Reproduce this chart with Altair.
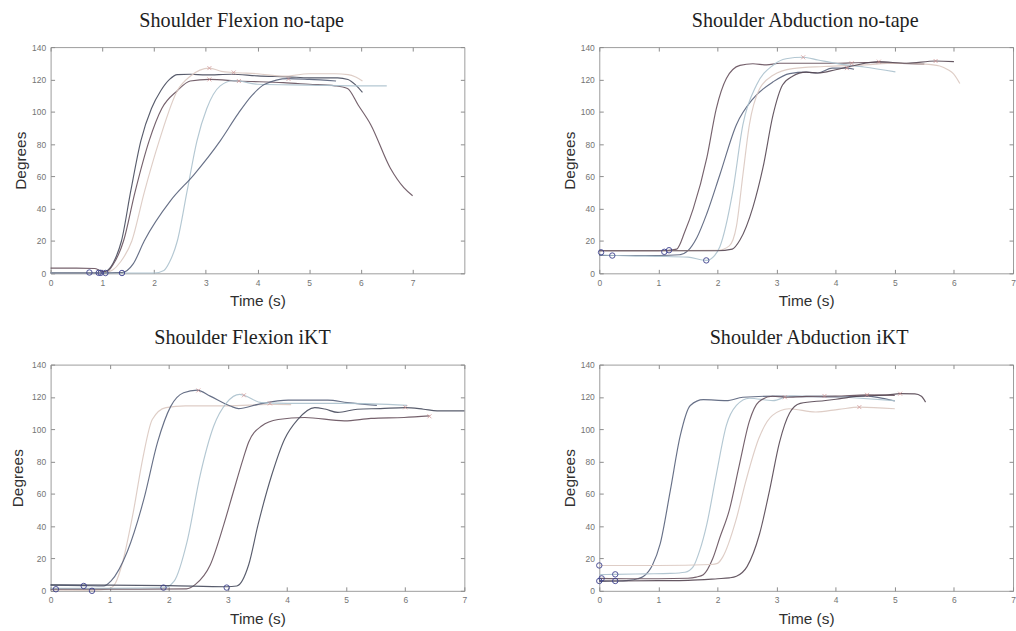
import altair as alt
import pandas as pd

# ---------------- data (time s, degrees) ----------------
# Panel 1: Shoulder Flexion no-tape
P1_C1 = [(0, 0.5), (0.5, 0.5), (0.9, 0.5), (1.0, 0.8), (1.1, 1.8), (1.25, 9), (1.37, 20), (1.55, 51), (1.745, 82),
         (1.95, 102), (2.13, 113), (2.3, 120), (2.45, 123), (2.7, 123.2), (3.0, 122.8), (3.5, 123.2), (4.0, 122.2),
         (4.6, 121.6), (5.0, 121), (5.55, 121), (5.75, 120), (5.9, 116.5), (6.03, 112)]
P1_C2 = [(0, 3.2), (0.5, 3.2), (0.85, 3.0), (0.97, 1.5), (1.08, 0.8), (1.2, 5), (1.41, 20), (1.63, 50), (1.905, 82),
         (2.15, 102), (2.45, 113), (2.7, 119), (3.07, 120), (3.64, 119), (4.5, 118), (5.0, 117), (5.5, 116),
         (5.74, 114.4), (5.95, 104), (6.19, 92), (6.57, 65), (6.83, 53), (7.0, 48)]
P1_C3 = [(0, 0.3), (0.9, 0.3), (1.06, 0.5), (1.2, 2), (1.35, 7), (1.57, 20), (1.81, 50), (2.1, 82), (2.45, 113),
         (2.7, 122), (3.07, 127), (3.3, 125), (3.54, 124.3), (4.0, 123.5), (4.5, 122), (5.0, 123.5), (5.5, 123.5),
         (5.75, 123), (5.9, 121.5), (6.03, 119)]
P1_C4 = [(0, 0.3), (1.0, 0.2), (2.0, 0.2), (2.19, 1.8), (2.3, 7), (2.45, 20), (2.64, 51), (2.83, 82), (3.02, 102),
         (3.28, 116), (3.53, 119.2), (3.64, 119), (4.0, 117), (5.0, 116.5), (6.0, 116), (6.5, 116)]
P1_C5 = [(0, 0.2), (1.0, 0.2), (1.38, 0.5), (1.6, 6), (1.81, 20), (2.32, 45), (2.77, 61), (3.28, 82), (3.63, 99),
         (3.89, 110), (4.14, 117), (4.59, 120.5), (5.0, 120), (5.52, 119)]
P1_CIRCLES = [(0.75, 0.5), (0.93, 0.3), (0.97, 0.3), (1.06, 0.2), (1.38, 0.2)]
P1_CROSSES = [(3.07, 127), (3.54, 124.3), (3.07, 120), (3.64, 119), (4.6, 120.3)]

# Panel 2: Shoulder Abduction no-tape
P2_C1 = [(0, 14), (1.0, 14), (1.18, 14.3), (1.31, 15), (1.45, 26), (1.59, 40), (1.82, 71.6), (1.98, 102),
         (2.15, 120.6), (2.38, 128.7), (2.6, 129.7), (2.83, 129), (3.05, 130), (3.5, 130), (4.0, 130),
         (4.5, 130.5), (5.0, 130), (5.5, 129.5)]
P2_C2 = [(0, 11), (0.22, 11), (1.0, 11), (1.36, 11.5), (1.5, 14), (1.65, 22), (1.82, 37), (2.04, 61), (2.32, 92),
         (2.6, 108), (2.94, 118.5), (3.22, 123.6), (3.5, 124.5), (3.7, 124), (3.94, 127), (4.19, 127), (4.31, 126.3)]
P2_C3 = [(0, 14), (1.0, 14), (2.0, 14.2), (2.2, 17), (2.32, 29), (2.43, 61), (2.54, 92), (2.71, 114), (2.94, 122.6),
         (3.27, 126.7), (3.8, 128), (4.5, 129), (5.0, 130), (5.5, 129.5), (5.76, 128.3), (5.9, 126), (5.99, 123.6),
         (6.1, 117.5)]
P2_C4 = [(0, 11.5), (0.5, 10.8), (1.0, 10.5), (1.5, 10), (1.81, 8), (1.95, 11), (2.04, 16.5), (2.26, 51),
         (2.43, 92), (2.66, 116.5), (2.94, 128.8), (3.16, 132.8), (3.45, 133.7), (3.7, 132), (4.03, 129.8),
         (4.48, 127.7), (5.01, 124.7)]
P2_C5 = [(0, 14), (1.1, 14), (2.0, 14), (2.25, 15), (2.38, 20.6), (2.6, 41), (2.77, 65.5), (2.94, 98), (3.1, 116.5),
         (3.27, 122), (3.5, 124.5), (3.7, 124), (4.0, 126), (4.3, 128.5), (4.73, 131), (5.2, 130), (5.69, 131.4),
         (6.0, 131)]
P2_CIRCLES = [(0.03, 13), (0.22, 11), (1.1, 13.3), (1.18, 14.3), (1.81, 8)]
P2_CROSSES = [(3.45, 133.7), (4.19, 127), (4.27, 130), (4.73, 131), (5.69, 131.4)]

# Panel 3: Shoulder Flexion iKT
P3_C1 = [(0, 0.5), (0.7, 0.3), (1.0, 1.5), (1.1, 5), (1.22, 18), (1.39, 47), (1.56, 82), (1.72, 106), (1.95, 113.4),
         (2.28, 114.5), (3.0, 114.5), (3.71, 115.3), (4.07, 115.2)]
P3_C2 = [(0, 3.5), (0.56, 3.2), (0.9, 3), (1.02, 6), (1.3, 24.5), (1.58, 57), (1.81, 92), (2.03, 114),
         (2.25, 122.6), (2.48, 124.2), (2.7, 120.5), (3.04, 114.4), (3.18, 112.8), (3.51, 115.4), (4.02, 118),
         (4.69, 118), (5.02, 116.5), (5.52, 114.8)]
P3_C3 = [(0, 1.5), (1.0, 1.5), (1.91, 1.8), (2.09, 6), (2.31, 30.6), (2.53, 71.5), (2.76, 102), (2.98, 116.5),
         (3.2, 121.6), (3.27, 121), (3.57, 116.5), (4.0, 116), (5.0, 116), (6.03, 114.8)]
P3_C4 = [(0, 1.0), (1.5, 1.0), (2.3, 1.2), (2.45, 4), (2.7, 16), (2.93, 41), (3.09, 61), (3.26, 82), (3.35, 92),
         (3.57, 102), (3.85, 106), (4.3, 107.3), (4.97, 105.2), (5.42, 106.7), (5.98, 107.3), (6.41, 108.3)]
P3_C5 = [(0, 3.7), (1.0, 3.5), (2.0, 3.2), (2.98, 2.5), (3.15, 3), (3.35, 16), (3.51, 41), (3.74, 71.5),
         (3.96, 94), (4.18, 106), (4.47, 113.4), (4.64, 112.5), (4.86, 110.4), (5.19, 112.4), (5.58, 112.8),
         (6.0, 113.4), (6.31, 112.4), (6.54, 111.4), (7.0, 111.4)]
P3_CIRCLES = [(0.09, 1), (0.56, 3), (0.7, 0), (1.91, 2), (2.98, 2)]
P3_CROSSES = [(2.5, 124), (3.27, 121), (3.71, 116), (6.0, 113.6), (6.41, 108)]

# Panel 4: Shoulder Abduction iKT
P4_C1 = [(0, 6), (0.27, 6.1), (0.5, 6.5), (0.65, 7.5), (0.75, 9), (0.9, 16), (1.03, 29), (1.2, 61.7), (1.37, 96),
         (1.54, 114.7), (1.76, 118.3), (2.15, 117.7), (2.43, 119.8), (3.0, 120.5), (3.5, 120.2), (4.0, 120),
         (4.5, 120.5), (5.0, 117.5)]
P4_C2 = [(0, 10), (0.27, 10.2), (0.8, 10.5), (1.2, 10.8), (1.45, 11.5), (1.59, 15), (1.7, 25), (1.82, 41.3),
         (1.98, 71.9), (2.15, 102.4), (2.32, 114.7), (2.54, 119.2), (2.94, 117.7), (3.22, 120.5), (3.81, 120.6),
         (4.3, 119.5), (5.0, 117.7)]
P4_C3 = [(0, 7.7), (0.5, 7.5), (1.0, 7.5), (1.5, 7.8), (1.64, 8.5), (1.76, 10), (1.92, 20), (2.04, 33), (2.2, 50),
         (2.37, 78), (2.54, 105), (2.7, 117), (2.93, 120.4), (3.14, 119.8), (3.5, 120.3), (4.0, 120.5),
         (4.53, 121.3), (5.0, 121)]
P4_C4 = [(0, 15.7), (1.0, 15.7), (1.9, 16.3), (2.0, 17), (2.09, 21), (2.31, 43.4), (2.48, 67.9), (2.7, 94.4),
         (2.93, 108.6), (3.21, 112.7), (3.66, 110.7), (4.05, 112.3), (4.4, 113.7), (5.0, 112.7)]
P4_C5 = [(0, 6), (0.27, 6.1), (1.0, 6.3), (1.5, 6.5), (2.0, 7.5), (2.2, 8), (2.32, 9), (2.5, 15), (2.71, 35),
         (2.88, 62), (3.05, 92), (3.22, 110), (3.4, 116), (3.83, 117.8), (4.05, 118.8), (4.39, 120.4),
         (4.89, 121.3), (5.09, 122), (5.34, 121.9), (5.45, 120.4), (5.52, 116.8)]
P4_CIRCLES = [(0, 15.7), (0.04, 7.7), (0, 6.1), (0.27, 10.2), (0.27, 6.1)]
P4_CROSSES = [(3.14, 119.8), (3.81, 120.6), (4.4, 113.7), (4.53, 121.3), (5.09, 122)]

TITLES = ["Shoulder Flexion no-tape", "Shoulder Abduction no-tape", "Shoulder Flexion iKT", "Shoulder Abduction iKT"]
X_TICKS = [0, 1, 2, 3, 4, 5, 6, 7]
Y_TICKS = [0, 20, 40, 60, 80, 100, 120, 140]

# line colours per panel (curve order)
DARK = "#464a5c"
MAUVE = "#66505c"
BEIGE = "#dac8c0"
LBLUE = "#abc1cd"
SLATE = "#56617a"
DMAUVE = "#554652"
P1_COLORS = [DARK, MAUVE, BEIGE, LBLUE, SLATE]
P2_COLORS = [MAUVE, SLATE, BEIGE, LBLUE, DMAUVE]
P3_COLORS = [BEIGE, SLATE, LBLUE, MAUVE, DARK]
P4_COLORS = [SLATE, LBLUE, MAUVE, BEIGE, DMAUVE]

AX_GRAY = "#8c8c8c"
LBL_GRAY = "#737373"
TXT = "#303030"
TICK = 4


def curves_df(curves, colors):
    rows = []
    for k, (pts, col) in enumerate(zip(curves, colors)):
        for i, (t, d) in enumerate(pts):
            rows.append({"curve": f"c{k}", "i": i, "t": t, "deg": d, "col": col})
    return pd.DataFrame(rows)


def panel(curves, colors, circles, crosses, title, xmax, width, title_dx, ytitle_pad):
    df = curves_df(curves, colors)
    xs = alt.Scale(domain=[0, xmax], nice=False, zero=False)
    ys = alt.Scale(domain=[0, 140], nice=False, zero=False)

    x_bottom = alt.Axis(orient="bottom", values=X_TICKS, title="Time (s)", domain=False, grid=False,
                        tickSize=TICK, offset=-TICK, tickColor=AX_GRAY, labelFontSize=8.5,
                        labelColor=LBL_GRAY, labelFont="Liberation Sans", labelPadding=5, labelFlush=False,
                        titleFont="Liberation Sans", titleFontSize=15.5, titleFontWeight="normal",
                        titleColor=TXT, titlePadding=7)
    y_left = alt.Axis(orient="left", values=Y_TICKS, title="Degrees", domain=False, grid=False,
                      tickSize=TICK, offset=-TICK, tickColor=AX_GRAY, labelFontSize=8.5,
                      labelColor=LBL_GRAY, labelFont="Liberation Sans", labelPadding=5, labelFlush=False,
                      titleFont="Liberation Sans", titleFontSize=15.5, titleFontWeight="normal",
                      titleColor=TXT, titlePadding=ytitle_pad)
    x_top = alt.Axis(orient="top", values=X_TICKS, title=None, labels=False, domain=False, grid=False,
                     tickSize=TICK, offset=-TICK, tickColor=AX_GRAY)
    y_right = alt.Axis(orient="right", values=Y_TICKS, title=None, labels=False, domain=False, grid=False,
                       tickSize=TICK, offset=-TICK, tickColor=AX_GRAY)

    lines = alt.Chart(df).mark_line(interpolate="monotone", strokeWidth=1.15, opacity=0.9).encode(
        x=alt.X("t:Q", scale=xs, axis=x_bottom),
        y=alt.Y("deg:Q", scale=ys, axis=y_left),
        color=alt.Color("col:N", scale=None),
        detail="curve:N",
        order="i:Q",
    )
    frame_axes = alt.Chart(df).mark_point(opacity=0).encode(
        x=alt.X("t:Q", scale=xs, axis=x_top),
        y=alt.Y("deg:Q", scale=ys, axis=y_right),
    )
    cdf = pd.DataFrame(circles, columns=["t", "deg"])
    circ = alt.Chart(cdf).mark_point(shape="circle", filled=False, size=30, color="#3b3f8c",
                                     strokeWidth=1, opacity=0.9).encode(
        x=alt.X("t:Q", scale=xs, axis=None),
        y=alt.Y("deg:Q", scale=ys, axis=None),
    )
    xdf = pd.DataFrame(crosses, columns=["t", "deg"])
    cross = alt.Chart(xdf).mark_point(shape="M-1,-1L1,1M-1,1L1,-1", filled=False, size=16, color="#cf8f8f",
                                      strokeWidth=1).encode(
        x=alt.X("t:Q", scale=xs, axis=None),
        y=alt.Y("deg:Q", scale=ys, axis=None),
    )
    return alt.layer(lines, circ, cross, frame_axes).resolve_axis(x="independent", y="independent").properties(
        width=width, height=228,
        title=alt.TitleParams(text=title, font="Liberation Serif", fontSize=20.3, fontWeight="normal",
                              color="#1e1e1e", anchor="middle", frame="group", dx=title_dx, dy=24,
                              offset=20, baseline="alphabetic"),
    )


p1 = panel([P1_C1, P1_C2, P1_C3, P1_C4, P1_C5], P1_COLORS, P1_CIRCLES, P1_CROSSES, TITLES[0], 8, 417, -16, 3)
p2 = panel([P2_C1, P2_C2, P2_C3, P2_C4, P2_C5], P2_COLORS, P2_CIRCLES, P2_CROSSES, TITLES[1], 7, 417, -1, 3)
p3 = panel([P3_C1, P3_C2, P3_C3, P3_C4, P3_C5], P3_COLORS, P3_CIRCLES, P3_CROSSES, TITLES[2], 7, 417, -15, 6)
p4 = panel([P4_C1, P4_C2, P4_C3, P4_C4, P4_C5], P4_COLORS, P4_CIRCLES, P4_CROSSES, TITLES[3], 7, 417, 3, 3)

chart = alt.concat(p1, p2, p3, p4, columns=2, spacing={"row": 92, "column": 136}, bounds="flush").configure_view(
    stroke="#9c9c9c", strokeWidth=1
).properties(padding={"left": 10, "top": 8, "right": 0, "bottom": 0}, background="white")

chart.save("out.html", embed_options={"renderer": "svg", "actions": False})
